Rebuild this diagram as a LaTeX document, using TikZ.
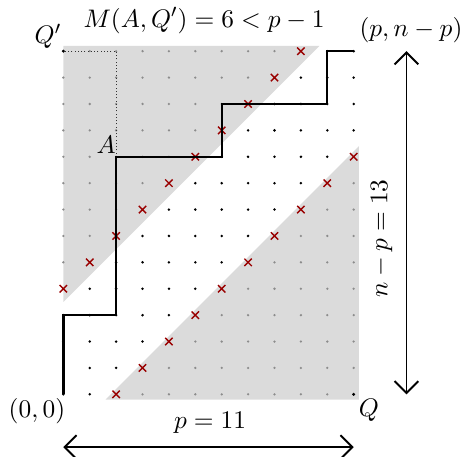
\documentclass[tikz,border=0pt]{standalone}
\usepackage{amsmath,amssymb}
\usepackage{xcolor}
\usepackage{tikz}
\usetikzlibrary{arrows.meta,positioning,calc}
\tikzset{
  shadedzone/.style={fill=black!14,draw=none},
  latticedot/.style={fill=black,draw=none},
  shadeddot/.style={fill=black!45,draw=none},
  crossmark/.style={draw=red!60!black,line width=0.6pt},
  latticepath/.style={line width=1pt,line join=miter},
  guideline/.style={densely dotted,thin,draw=black!80},
  lengtharrow/.style={{Straight Barb[length=1.8mm]}-{Straight Barb[length=1.8mm]},thick},
  pointlabel/.style={inner sep=1pt,font=\fontsize{10.95}{13}\selectfont}
}

\begin{document}
\begin{tikzpicture}[x=0.4cm,y=0.4cm]
  \useasboundingbox (-2.40,-2.34) rectangle (15.18,14.94);
  \coordinate (O) at (0,0);
  \coordinate (A) at (2,9);
  \coordinate (Qp) at (0,13);
  \coordinate (Q) at (11,0);
  \coordinate (P) at (11,13);
  % the two grey bands
  \fill[shadedzone] (0,3.5) -- (9.7,13.2) -- (0,13.2) -- cycle;
  \fill[shadedzone] (1.6,-0.2) -- (11.2,-0.2) -- (11.2,9.4) -- cycle;
  % lattice points, crosses on the two diagonals
  \foreach \i in {0,...,11}{
    \foreach \j in {0,...,13}{
      \pgfmathtruncatemacro\d{\j-\i}
      \ifnum\d=4
        \draw[crossmark] (\i,\j) +(-0.14,-0.14) -- +(0.14,0.14) +(-0.14,0.14) -- +(0.14,-0.14);
      \else\ifnum\d=-2
        \draw[crossmark] (\i,\j) +(-0.14,-0.14) -- +(0.14,0.14) +(-0.14,0.14) -- +(0.14,-0.14);
      \else\ifnum\d>4
        \fill[shadeddot] (\i,\j) circle (0.55pt);
      \else\ifnum\d<-2
        \fill[shadeddot] (\i,\j) circle (0.55pt);
      \else
        \fill[latticedot] (\i,\j) circle (0.6pt);
      \fi\fi\fi\fi
    }
  }
  \fill[latticedot] (Q) circle (0.7pt);
  \fill[latticedot] (Qp) circle (0.7pt);
  % the path and the box above A
  \draw[guideline] (A) -- (A |- Qp) -- (Qp);
  \draw[latticepath] (O) -- (0,3) -- (2,3) -- (A) -- (6,9) -- (6,11) -- (10,11) -- (10,13) -- (P);
  % labels
  \node[pointlabel] (title) at (5.33,14.16) {$M(A,Q')=6<p-1$};
  \node[pointlabel] (qplabel) at (-0.58,13.55) {$Q'$};
  \node[pointlabel] (plabel) at (13.17,13.78) {$(p,n-p)$};
  \node[pointlabel] (alabel) at (1.62,9.45) {$A$};
  \node[pointlabel] (olabel) at (-1.0,-0.63) {$(0,0)$};
  \node[pointlabel] (qlabel) at (11.58,-0.6) {$Q$};
  % lengths
  \coordinate (hl) at (0,-2);
  \coordinate (hr) at (11,-2);
  \coordinate (vb) at (13,0);
  \coordinate (vt) at (13,13);
  \draw[lengtharrow] (hl) -- (hr);
  \draw[lengtharrow] (vb) -- (vt);
  \node[pointlabel] (wlabel) at (5.56,-1.09) {$p=11$};
  \node[pointlabel,rotate=90] (hlabel) at (12.06,5.9) {$n-p=13$};
\end{tikzpicture}
\end{document}
